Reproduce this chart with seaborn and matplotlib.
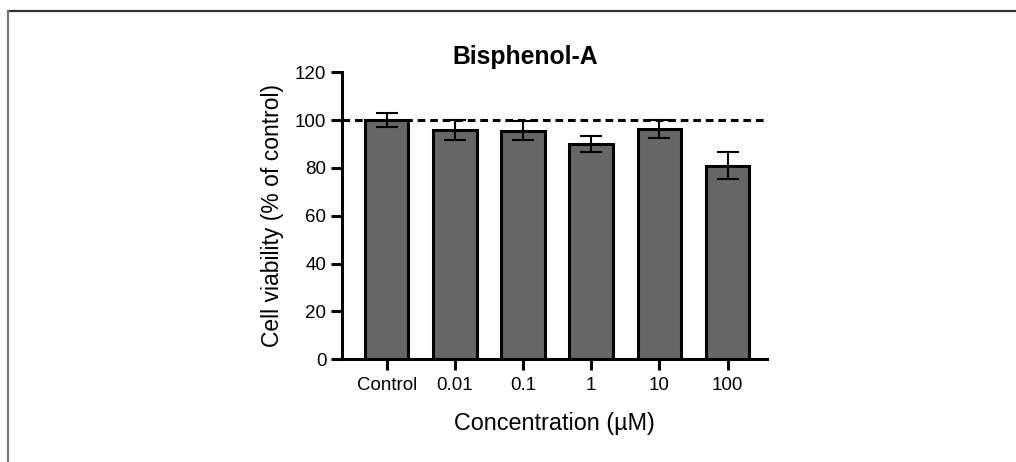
import matplotlib
matplotlib.use("Agg")
import matplotlib.pyplot as plt
import seaborn as sns
import pandas as pd
from matplotlib.lines import Line2D

# Dados
concentracoes = ["Control", "0.01", "0.1", "1", "10", "100"]
viabilidade = [100.0, 96.0, 95.6, 90.0, 96.3, 81.0]
desvio = [3.0, 4.2, 3.9, 3.3, 3.6, 5.8]

df = pd.DataFrame({"conc": concentracoes, "viab": viabilidade})

sns.set_theme(style="ticks")
plt.rcParams["font.family"] = ["Liberation Sans", "DejaVu Sans"]
plt.rcParams["text.color"] = "black"
plt.rcParams["axes.labelcolor"] = "black"

fig = plt.figure(figsize=(10.16, 4.62), dpi=100)
ax = fig.add_axes([0.3363, 0.2223, 0.755 - 0.3363, 0.8435 - 0.2223])

sns.barplot(data=df, x="conc", y="viab", color="#666666", saturation=1,
            edgecolor="black", linewidth=2.2, width=0.64, errorbar=None, ax=ax)
ax.errorbar(range(len(concentracoes)), viabilidade, yerr=desvio, fmt="none",
            ecolor="black", elinewidth=1.5, capsize=8, capthick=1.5, zorder=5)

ax.axhline(100, color="black", lw=2.2, ls=(0, (2.5, 1.6)), zorder=4)

ax.set_xlim(-0.66, 5.58)
ax.set_ylim(0, 120)
ax.set_yticks([0, 20, 40, 60, 80, 100, 120])

sns.despine(ax=ax)
for s in ["left", "bottom"]:
    ax.spines[s].set_linewidth(2.2)
    ax.spines[s].set_color("black")
ax.tick_params(axis="both", length=8, width=2.2, color="black",
               labelsize=13.5, labelcolor="black")
ax.tick_params(axis="y", pad=3)
ax.tick_params(axis="x", pad=5)

ax.set_title("Bisphenol-A", fontsize=17.8, fontweight="bold", pad=6,
             x=(525 - 341.7) / (767 - 341.7))
ax.set_xlabel("Concentration (µM)", fontsize=16.8, labelpad=13)
ax.set_ylabel("Cell viability (% of control)", fontsize=16.5, labelpad=8)

# Moldura
fig.add_artist(Line2D([8 / 1016, 1], [1 - 10.5 / 462, 1 - 10.5 / 462],
                      color="#333333", lw=1.6, transform=fig.transFigure))
fig.add_artist(Line2D([8 / 1016, 8 / 1016], [0, 1 - 10.5 / 462],
                      color="#777777", lw=1.6, transform=fig.transFigure))

fig.savefig("out.png", dpi=100)
